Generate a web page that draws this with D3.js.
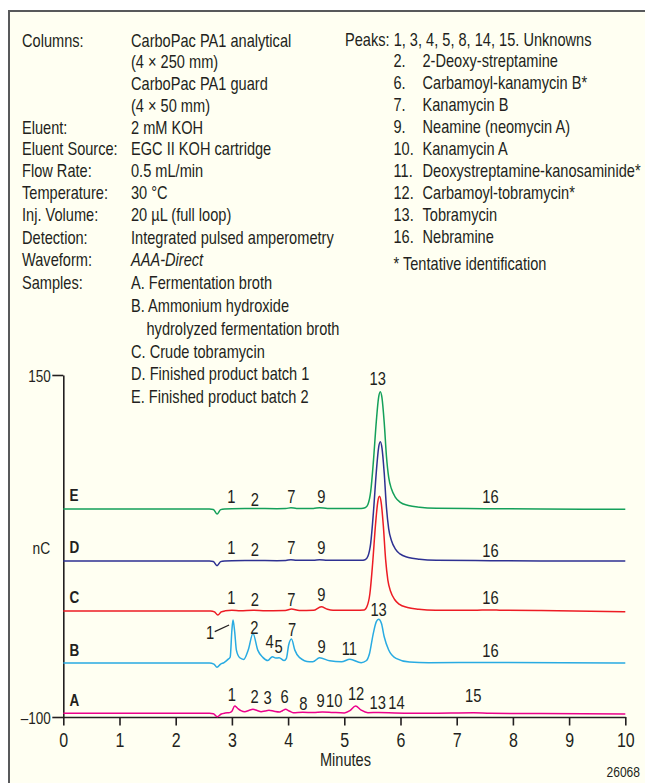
<!DOCTYPE html>
<html><head><meta charset="utf-8">
<script src="https://cdn.jsdelivr.net/npm/d3@7"></script>
<style>
html,body{margin:0;padding:0;background:#fff;}
svg{display:block;}
text{font-family:"Liberation Sans",Arial,sans-serif;fill:#231f20;}
</style></head><body>
<svg id="c" width="645" height="783"></svg>
<script>
// ---------- data ----------
const minuteTicks = [0,1,2,3,4,5,6,7,8,9,10];
const nCTicks = [150,-100];
const traceNames = ["A","B","C","D","E"];
const traceColors = ["#ec008c","#29abe2","#ed1c24","#2e3192","#14a05a"];
const traceLetterY = [-91.8,-55.2,-17.0,19.7,57.6];

const traceA = [[0,-97.2],[2.6,-97.3],[2.67,-97.6],[2.74,-99.8],[2.81,-97.8],[2.88,-97.1],[2.96,-96.8],[3.0,-95.8],[3.05,-92.0],[3.1,-93.6],[3.16,-95.3],[3.23,-96.1],[3.3,-95.2],[3.375,-94.4],[3.45,-95.3],[3.52,-96.1],[3.59,-95.6],[3.66,-95.1],[3.75,-95.8],[3.85,-96.3],[3.9,-95.4],[3.955,-94.4],[4.02,-95.6],[4.09,-96.9],[4.26,-96.6],[4.45,-96.8],[4.61,-96.3],[4.8,-96.7],[5.0,-97.0],[5.1,-95.4],[5.2,-92.0],[5.3,-95.0],[5.42,-96.9],[5.61,-96.7],[5.9,-97.0],[6.5,-97.3],[7.3,-96.9],[7.6,-97.3],[8.5,-97.5],[10,-97.8]];
const traceB = [[0,-60.5],[2.6,-60.5],[2.68,-61.3],[2.735,-63.7],[2.8,-61.3],[2.86,-60.2],[2.93,-57.9],[2.97,-56.1],[3.0,-36.4],[3.02,-29.1],[3.05,-37.9],[3.08,-51.1],[3.14,-56.7],[3.21,-57.9],[3.29,-51.1],[3.375,-39.0],[3.46,-51.1],[3.55,-56.4],[3.64,-58.7],[3.72,-55.9],[3.78,-56.9],[3.84,-56.7],[3.93,-58.7],[3.97,-57.1],[4.01,-47.4],[4.06,-43.0],[4.12,-51.1],[4.2,-56.4],[4.38,-59.6],[4.44,-59.6],[4.56,-56.7],[4.74,-58.9],[4.95,-59.6],[5.1,-57.8],[5.3,-60.3],[5.39,-58.9],[5.45,-53.4],[5.51,-40.1],[5.57,-30.3],[5.61,-28.6],[5.66,-31.5],[5.71,-41.3],[5.79,-51.0],[5.92,-57.1],[6.16,-59.8],[6.5,-60.3],[7.6,-60.2],[10,-60.5]];
const traceC = [[0,-22.5],[2.62,-22.5],[2.69,-23.2],[2.75,-25.4],[2.81,-23.2],[2.88,-22.4],[3.0,-22.0],[3.15,-22.4],[3.38,-21.9],[3.6,-22.3],[3.95,-22.2],[4.06,-21.1],[4.2,-22.2],[4.45,-22.0],[4.59,-19.4],[4.7,-21.3],[4.8,-22.0],[5.2,-22.0],[5.355,-21.7],[5.405,-19.1],[5.455,-9.9],[5.505,12.7],[5.555,40.4],[5.595,57.1],[5.625,61.3],[5.655,57.1],[5.695,39.5],[5.735,15.2],[5.775,0.1],[5.825,-8.3],[5.895,-14.1],[5.975,-17.5],[6.125,-20.0],[6.325,-21.2],[6.625,-21.9],[7.3,-22.0],[7.6,-21.7],[7.8,-22.0],[8.5,-22.2],[10,-23.0]];
const traceD = [[0,14.0],[2.6,14.0],[2.67,13.7],[2.735,10.6],[2.8,13.6],[2.87,14.1],[3.0,14.3],[3.38,14.4],[3.8,14.3],[3.96,14.4],[4.05,15.0],[4.15,14.5],[4.45,14.5],[4.56,15.0],[4.7,14.5],[5.3,14.5],[5.37,14.9],[5.42,17.5],[5.47,27.1],[5.52,50.6],[5.57,79.4],[5.61,96.8],[5.64,101.2],[5.67,96.8],[5.71,78.5],[5.75,53.2],[5.79,37.5],[5.84,28.8],[5.91,22.7],[5.99,19.2],[6.14,16.6],[6.34,15.3],[6.64,14.6],[7.6,14.3],[8.5,14.1],[10,14.0]];
const traceE = [[0,52.0],[2.6,52.0],[2.67,51.7],[2.735,48.4],[2.8,51.6],[2.87,52.1],[3.0,52.3],[3.38,52.4],[3.8,52.3],[3.96,52.4],[4.05,53.0],[4.15,52.5],[4.45,52.5],[4.56,52.9],[4.7,52.5],[5.3,52.5],[5.37,52.9],[5.42,55.4],[5.47,64.9],[5.52,88.0],[5.57,116.3],[5.61,133.4],[5.64,137.7],[5.67,133.4],[5.71,115.4],[5.75,90.6],[5.79,75.1],[5.84,66.6],[5.91,60.6],[5.99,57.1],[6.14,54.6],[6.34,53.3],[6.64,52.6],[7.5,52.3],[8.5,52.1],[10,51.8]];

// peak labels: [text, minutes, nC]
const labelsA = [["1",3.0,-88.3],["2",3.405,-89.5],["3",3.636,-90.5],["6",3.94,-89.5],["8",4.27,-94.9],["9",4.58,-92.7],["10",4.82,-92.7],["12",5.21,-87.6],["13",5.595,-94.4],["14",5.93,-94.4],["15",7.295,-88.8]];
const labelsB = [["1",2.61,-43.0],["2",3.40,-39.3],["4",3.67,-49.6],["5",3.83,-53.2],["7",4.07,-40.8],["9",4.595,-53.0],["11",5.09,-54.7],["13",5.61,-26.2],["16",7.6,-55.8]];
const labelsC = [["1",2.99,-17.4],["2",3.41,-18.9],["7",4.06,-18.9],["9",4.59,-15.0],["16",7.6,-17.4]];
const labelsD = [["1",2.99,19.2],["2",3.41,17.7],["7",4.06,19.2],["9",4.59,19.2],["16",7.6,17.3]];
const labelsE = [["1",2.99,56.4],["2",3.41,54.6],["7",4.06,56.4],["9",4.59,56.4],["16",7.6,56.4],["13",5.595,142.7]];
const leaderB1 = [[2.695,-37.6],[2.95,-32.7]];

const condLabels = ["Columns:","","","","Eluent:","Eluent Source:","Flow Rate:","Temperature:","Inj. Volume:","Detection:","Waveform:","Samples:","","","","",""];
const condValues = ["CarboPac PA1 analytical","(4 × 250 mm)","CarboPac PA1 guard","(4 × 50 mm)","2 mM KOH","EGC II KOH cartridge","0.5 mL/min","30 °C","20 µL (full loop)","Integrated pulsed amperometry","AAA-Direct","A. Fermentation broth","B. Ammonium hydroxide","hydrolyzed fermentation broth","C. Crude tobramycin","D. Finished product batch 1","E. Finished product batch 2"];
const peakNums = ["Peaks: 1, 3, 4, 5, 8, 14, 15. Unknowns","2.","6.","7.","9.","10.","11.","12.","13.","16."];
const peakNames = ["","2-Deoxy-streptamine","Carbamoyl-kanamycin B*","Kanamycin B","Neamine (neomycin A)","Kanamycin A","Deoxystreptamine-kanosaminide*","Carbamoyl-tobramycin*","Tobramycin","Nebramine"];
const footnote = "* Tentative identification";
const xTitle = "Minutes", yTitle = "nC", figId = "26068";

// ---------- drawing ----------
const SX = 0.82; // condensed face emulation
const svg = d3.select("#c");
svg.append("rect").attr("x",9).attr("y",11).attr("width",680).attr("height",800)
  .attr("fill","#fffff2").attr("stroke","#58595b").attr("stroke-width",2);

function txt(parent, px, py, s, size, anchor){
  return parent.append("text")
    .attr("transform",`translate(${px},${py}) scale(${SX},1)`)
    .attr("text-anchor",anchor||"start").style("font-size",size+"px").text(s);
}

const x = d3.scaleLinear().domain([0,10]).range([63.3,625.3]);
const y = d3.scaleLinear().domain([-100,150]).range([717,375]);

// conditions text
const leftY = d => d<=8 ? 46.5 + d*21.78 : 220.7 + (d-8)*22.8;
const g1 = svg.append("g");
condLabels.forEach((t,i)=>{ if(t) txt(g1,22,leftY(i),t,17.8); });
condValues.forEach((t,i)=>{
  const e = txt(g1, i===13 ? 146.5 : 131, leftY(i), t, 17.8);
  if(i===10) e.style("font-style","italic");
});
peakNums.forEach((t,i)=> txt(g1, i===0 ? 345 : 393.5, 45.5+i*21.97, t, 17.8));
peakNames.forEach((t,i)=>{ if(t) txt(g1,422.5,45.5+i*21.97,t,17.8); });
txt(g1,393.5,270,footnote,17.8);

// axes
const ax = svg.append("g").attr("transform","translate(0,717)")
  .call(d3.axisBottom(x).tickValues(minuteTicks).tickSize(8.5).tickSizeOuter(0).tickFormat(d3.format("d")));
ax.select(".domain").attr("stroke","#231f20").attr("stroke-width",1.6);
ax.selectAll(".tick line").attr("stroke","#231f20").attr("stroke-width",1.6);
ax.selectAll(".tick text").attr("y",null).attr("dy",null)
  .attr("transform",`translate(0,29.5) scale(${SX},1)`)
  .style("font-size","19.5px").attr("font-family",null).attr("font-size",null).attr("fill","#231f20");

const ay = svg.append("g").attr("transform","translate(63.3,0)")
  .call(d3.axisLeft(y).tickValues(nCTicks).tickSize(11).tickSizeOuter(0).tickFormat(d=> d<0 ? "\u2013"+Math.abs(d) : d));
ay.select(".domain").attr("stroke","#231f20").attr("stroke-width",1.6);
ay.selectAll(".tick line").attr("stroke","#231f20").attr("stroke-width",1.6);
ay.selectAll(".tick text").attr("x",null).attr("dy",null)
  .attr("transform",`translate(-12.5,6) scale(${SX},1)`)
  .style("font-size","16.5px").attr("font-family",null).attr("font-size",null).attr("fill","#231f20");

txt(svg,345.5,766,xTitle,17.8,"middle");
txt(svg,41.3,554,yTitle,16.8,"middle");
txt(svg,640,777.3,figId,14.7,"end");

// traces
const line = d3.line().x(d=>x(d[0])).y(d=>y(d[1])).curve(d3.curveMonotoneX);
const traces = [traceA,traceB,traceC,traceD,traceE];
traces.forEach((tr,i)=>{
  svg.append("path").datum(tr).attr("d",line).attr("fill","none")
    .attr("stroke",traceColors[i]).attr("stroke-width",1.5);
  txt(svg,69.5,y(traceLetterY[i]),traceNames[i],16.5).style("font-weight","bold");
});

// peak labels
const lg = svg.append("g");
[labelsA,labelsB,labelsC,labelsD,labelsE].forEach(ls=>{
  ls.forEach(l=> txt(lg, x(l[1]), y(l[2]), l[0], 18, "middle"));
});
svg.append("path").datum(leaderB1).attr("d",d3.line().x(d=>x(d[0])).y(d=>y(d[1])))
  .attr("stroke","#231f20").attr("stroke-width",1.2).attr("fill","none");
</script></body></html>
